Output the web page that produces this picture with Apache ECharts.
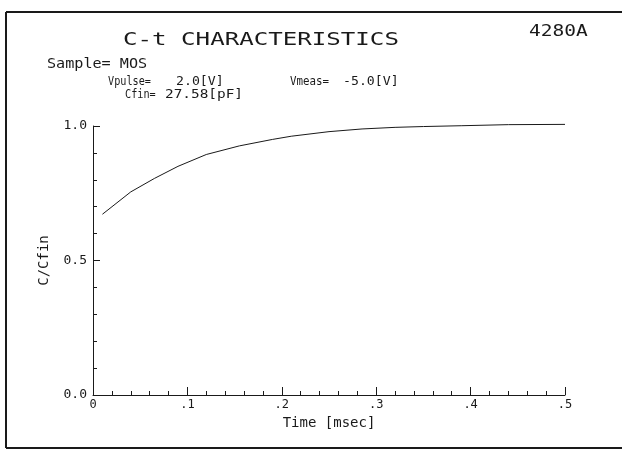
<!DOCTYPE html>
<html>
<head>
<meta charset="utf-8">
<title>C-t CHARACTERISTICS</title>
<script src="https://cdn.jsdelivr.net/npm/echarts@6/dist/echarts.min.js"></script>
<style>
  html, body { margin: 0; padding: 0; background: #fff; }
  #chart { width: 622px; height: 450px; }
</style>
</head>
<body>
<div id="chart"></div>
<script>
// 数据
var timeMs = [0.01, 0.04, 0.065, 0.09, 0.12, 0.155, 0.19, 0.21, 0.25, 0.285, 0.32, 0.35, 0.39, 0.44, 0.50];
var ratio = [0.672, 0.755, 0.805, 0.850, 0.894, 0.926, 0.950, 0.962, 0.979, 0.989, 0.995, 0.998, 1.001, 1.005, 1.006];
var xTickLabels = ['0', '.1', '.2', '.3', '.4', '.5'];
var yTickLabels = ['0.0', '0.5', '1.0'];

var FONT = '"DejaVu Sans Mono", "Liberation Mono", monospace';
var INK = '#1a1a1a';

var chart = echarts.init(document.getElementById('chart'), null, { renderer: 'canvas' });

// 文字 helper, plotter fonts are wide so stretch horizontally
function label(text, x, y, size, sx) {
    return {
        type: 'text',
        x: x,
        y: y,
        scaleX: sx || 1,
        style: {
            text: text,
            font: size + 'px ' + FONT,
            fill: INK,
            textVerticalAlign: 'bottom'
        }
    };
}

var points = timeMs.map(function (t, i) { return [t, ratio[i]]; });

var option = {
    animation: false,
    backgroundColor: '#fff',
    grid: { left: 93, right: 57, top: 126, bottom: 55 },
    xAxis: {
        type: 'value',
        min: 0,
        max: 0.5,
        interval: 0.1,
        name: 'Time [msec]',
        nameLocation: 'middle',
        nameGap: 21,
        nameTextStyle: { fontFamily: FONT, fontSize: 14, color: INK },
        axisLine: { lineStyle: { color: INK, width: 1 } },
        axisTick: { inside: true, length: 8, lineStyle: { color: INK } },
        minorTick: { show: true, splitNumber: 5, length: 4, lineStyle: { color: INK } },
        splitLine: { show: false },
        axisLabel: {
            fontFamily: FONT,
            fontSize: 12,
            color: INK,
            margin: 4,
            formatter: function (v) { return xTickLabels[Math.round(v * 10)]; }
        }
    },
    yAxis: {
        type: 'value',
        min: 0,
        max: 1,
        interval: 0.5,
        name: 'C/Cfin',
        nameLocation: 'middle',
        nameGap: 42,
        nameTextStyle: { fontFamily: FONT, fontSize: 14, color: INK },
        axisLine: { show: true, lineStyle: { color: INK, width: 1 } },
        axisTick: { show: true, inside: true, length: 7, lineStyle: { color: INK } },
        minorTick: { show: true, splitNumber: 5, length: 4, lineStyle: { color: INK } },
        splitLine: { show: false },
        axisLabel: {
            fontFamily: FONT,
            fontSize: 13,
            color: INK,
            margin: 6,
            formatter: function (v) { return yTickLabels[Math.round(v * 2)]; }
        }
    },
    series: [{
        type: 'line',
        data: points,
        clip: false,
        showSymbol: false,
        symbol: 'none',
        lineStyle: { color: INK, width: 1 }
    }],
    graphic: [
        // 外框
        { type: 'line', shape: { x1: 6, y1: 12, x2: 622, y2: 12 }, style: { stroke: INK, lineWidth: 2 } },
        { type: 'line', shape: { x1: 6, y1: 12, x2: 6, y2: 448 }, style: { stroke: INK, lineWidth: 2 } },
        { type: 'line', shape: { x1: 6, y1: 448, x2: 622, y2: 448 }, style: { stroke: INK, lineWidth: 2 } },
        // 标题和参数
        label('C-t CHARACTERISTICS', 123, 49, 18, 1.34),
        label('4280A', 529, 40, 16, 1.22),
        label('Sample= MOS', 47, 71, 14, 1.08),
        label('Vpulse=', 108, 88, 12, 0.85),
        label('2.0[V]', 176, 88, 12, 1.1),
        label('Vmeas=', 290, 88, 12, 0.9),
        label('-5.0[V]', 343, 88, 12, 1.1),
        label('Cfin=', 125, 101, 12, 0.85),
        label('27.58[pF]', 165, 101, 12, 1.2)
    ]
};

chart.setOption(option);
</script>
</body>
</html>
